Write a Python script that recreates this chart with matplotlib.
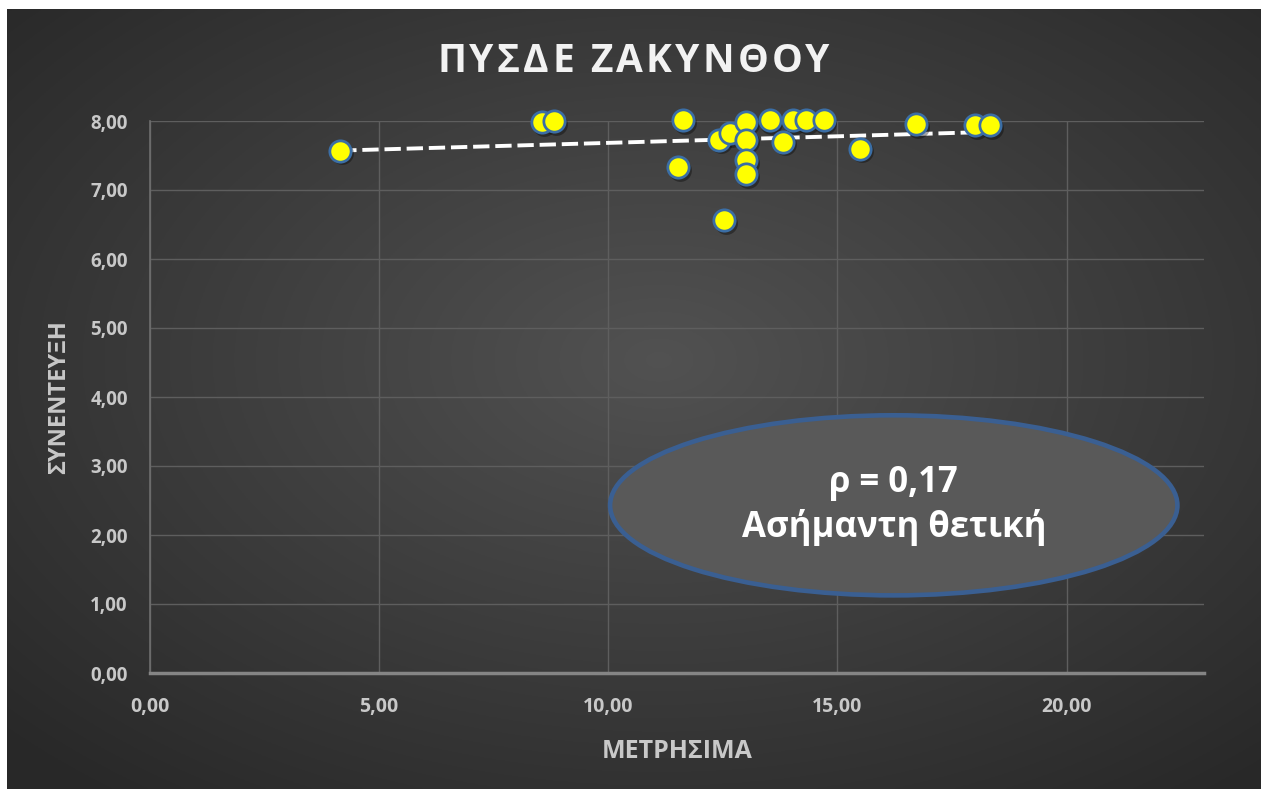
import numpy as np
import matplotlib
matplotlib.use("Agg")
import matplotlib.pyplot as plt
from matplotlib.patches import Ellipse
from matplotlib.ticker import FuncFormatter

# data
metrisima = [4.15, 8.55, 8.82, 11.64, 11.52, 12.52, 12.41, 12.66, 13.01, 13.01,
             13.01, 13.01, 13.52, 14.03, 14.32, 14.70, 13.81, 15.50, 16.71, 18.01, 18.33]
synenteuxi = [7.57, 7.98, 8.00, 8.01, 7.33, 6.56, 7.73, 7.82, 7.99, 7.73,
              7.43, 7.23, 8.01, 8.01, 8.01, 8.01, 7.70, 7.60, 7.95, 7.94, 7.94]
x_ticks = [0, 5, 10, 15, 20]
y_ticks = [0, 1, 2, 3, 4, 5, 6, 7, 8]

title = "ΠΥΣΔΕ ΖΑΚΥΝΘΟΥ"
x_label = "ΜΕΤΡΗΣΙΜΑ"
y_label = "ΣΥΝΕΝΤΕΥΞΗ"
note = "ρ = 0,17\nΑσήμαντη θετική"

plt.rcParams["font.family"] = ["Open Sans", "DejaVu Sans"]

W, H = 1261, 789
fig = plt.figure(figsize=(W / 100, H / 100), dpi=100)
fig.patch.set_facecolor("white")

# radial gradient background
bg = fig.add_axes([7 / W, 0, 1 - 7 / W, 1 - 9 / H], zorder=-10)
gy, gx = np.mgrid[0:1:400j, 0:1:640j]
r = np.sqrt(((gx - 0.52) / 0.75) ** 2 + ((gy - 0.45) / 0.75) ** 2)
shade = np.clip(0.32 - 0.17 * r, 0.16, 0.32)
bg.imshow(np.dstack([shade] * 3), aspect="auto", extent=[0, 1, 0, 1])
bg.set_axis_off()

ax = fig.add_axes([150 / W, 1 - 673 / H, (1204 - 150) / W, (673 - 121) / H])
ax.patch.set_alpha(0)
ax.set_xlim(0, 23)
ax.set_ylim(0, 8)
ax.set_xticks(x_ticks)
ax.set_yticks(y_ticks)
fmt = FuncFormatter(lambda v, p: f"{v:.2f}".replace(".", ","))
ax.xaxis.set_major_formatter(fmt)
ax.yaxis.set_major_formatter(fmt)
ax.tick_params(length=0, labelsize=14, labelcolor="#c8c8c8")
ax.tick_params(axis="x", pad=17)
ax.tick_params(axis="y", pad=16, labelsize=13.5)
for lab in ax.get_xticklabels() + ax.get_yticklabels():
    lab.set_fontweight("bold")
ax.grid(True, color="#5e5e5e", lw=1)
ax.set_axisbelow(True)
for s in ["top", "right"]:
    ax.spines[s].set_visible(False)
ax.spines["left"].set_color("#6e6e6e")
ax.spines["left"].set_linewidth(1.2)
ax.spines["bottom"].set_color("#858585")
ax.spines["bottom"].set_linewidth(2.5)

# annotation ellipse
ell = Ellipse((16.23, 2.43), 12.38, 2.61, facecolor="#595959", edgecolor="#3a5f92",
              lw=3.3, zorder=2)
ax.add_patch(ell)
ax.text(16.23, 2.43, note, ha="center", va="center", color="white",
        fontsize=25, fontweight="bold", linespacing=1.3, zorder=3)

# trend line
k, b = np.polyfit(metrisima, synenteuxi, 1)
tx = np.array([min(metrisima), max(metrisima)])
ax.plot(tx, k * tx + b, color="white", lw=2.8, ls=(0, (4.2, 1.5)), zorder=4)

# points with a soft shadow
ax.scatter(np.array(metrisima) + 0.04, np.array(synenteuxi) - 0.04, s=270,
           color="black", alpha=0.35, lw=0, zorder=5, clip_on=False)
ax.scatter(metrisima, synenteuxi, s=235, color="#ffff00", edgecolors="#3b6ea5",
           linewidths=2, zorder=6, clip_on=False)

ax.set_xlabel(x_label, fontsize=18, fontweight="bold", color="#c8c8c8", labelpad=16)
ax.set_ylabel(y_label, fontsize=17, fontweight="bold", color="#c8c8c8", labelpad=14)

# title with letter spacing, placed letter by letter
renderer = fig.canvas.get_renderer()
spacing = 3.2
pieces = []
for ch in title:
    t = fig.text(0, 0, ch, fontsize=28, fontweight="bold", color="#f2f2f2",
                 va="center", ha="left")
    w = t.get_window_extent(renderer).width if ch != " " else 0
    if ch == " ":
        w = 10
    pieces.append((t, w))
total = sum(w for _, w in pieces) + spacing * (len(pieces) - 1)
xpos = 633.5 - total / 2
for t, w in pieces:
    t.set_position((xpos / W, 1 - 61 / H))
    xpos += w + spacing

fig.savefig("out.png", dpi=100, facecolor=fig.get_facecolor())
